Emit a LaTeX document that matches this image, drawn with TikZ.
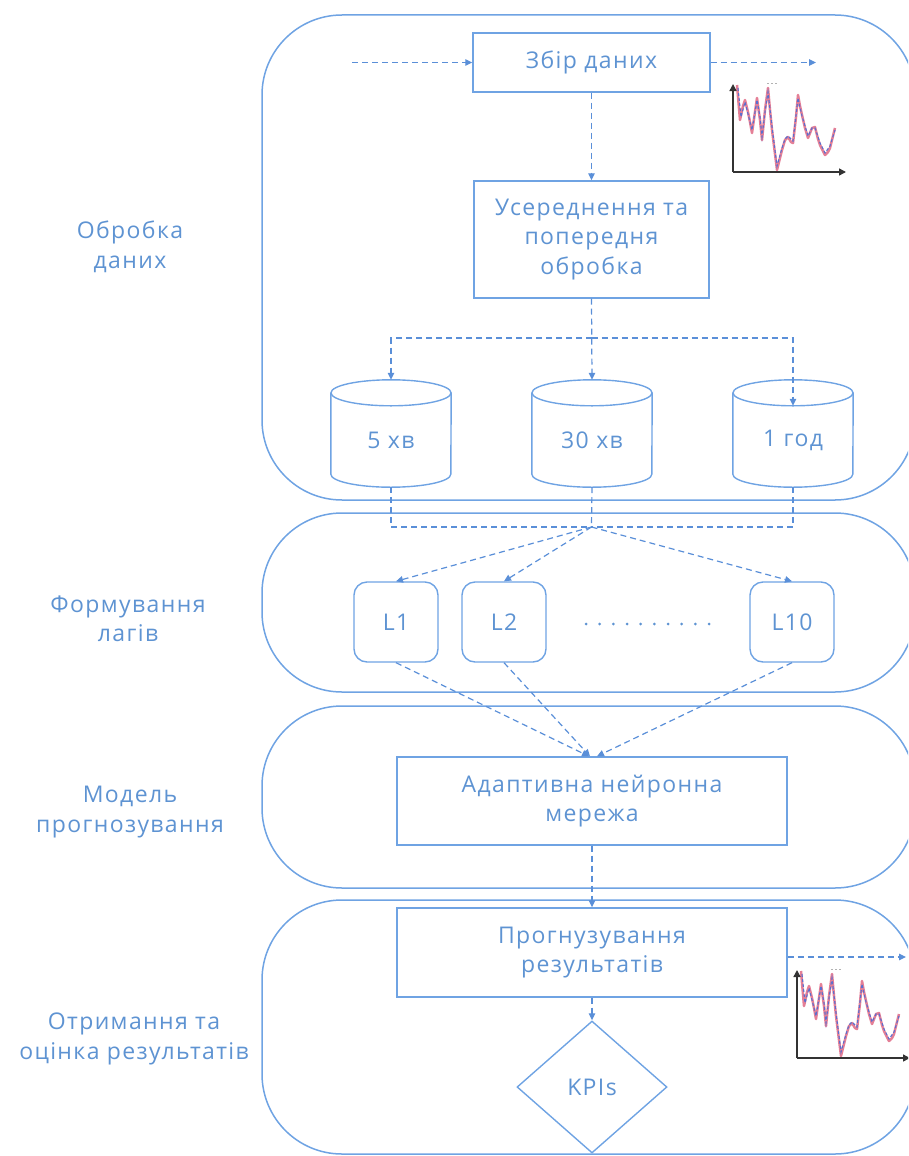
\documentclass[tikz,border=0pt]{standalone}
\usepackage{fontspec}
\setmainfont[LetterSpace=6]{Open Sans}
\usetikzlibrary{arrows.meta,shapes.geometric}
\definecolor{edge}{HTML}{6FA3E3}
\definecolor{ink}{HTML}{5E93D2}
\definecolor{flow}{HTML}{5A8FD8}
\definecolor{series}{HTML}{D9486A}
\definecolor{trend}{HTML}{5A6FD0}
\definecolor{axisc}{HTML}{333333}

% small time-series sketch: axes plus measured (red) and fitted (blue dashed) curves
\newcommand{\drawtrace}[1]{%
  \begin{scope}[shift={#1}]
    \draw[series, opacity=0.7, line width=2.5pt, line join=round]
      plot coordinates {(4,-87) (7,-52) (10,-66) (12,-72) (15,-60) (17,-50) (19,-39) (22,-60) (24,-74) (27,-52) (29,-32) (32,-62) (35,-84) (37,-62) (39,-42) (44,-2) (47,-14) (49,-22) (52,-32) (55,-35) (58,-30) (60,-29) (63,-55) (65,-77) (67,-66) (69,-57) (72,-44) (75,-34) (79,-44) (82,-45) (85,-33) (87,-27) (92,-17) (95,-20) (97,-24) (100,-36) (102,-44)};
    \draw[trend, line width=1.1pt, dash pattern=on 3pt off 2pt]
      plot coordinates {(5,-84) (8,-55) (12,-70) (15,-58) (19,-42) (24,-72) (27,-55) (29,-35) (32,-60) (35,-80) (39,-45) (44,-6) (49,-24) (52,-33) (55,-36) (60,-31) (65,-74) (69,-56) (75,-36) (79,-44) (82,-44) (87,-29) (92,-19) (97,-26) (102,-42)};
    \draw[gray!60, line width=0.8pt, dash pattern=on 2pt off 2pt] (34,-89) -- (45,-89);
    \draw[axisc, line width=1.4pt, -{Triangle[length=7pt,width=7pt]}] (0,0) -- (0,-88);
    \draw[axisc, line width=1.4pt, -{Triangle[length=7pt,width=7pt]}] (0,0) -- (113,0);
  \end{scope}}

\begin{document}
\begin{tikzpicture}[x=1pt, y=-1pt,
  font=\fontsize{23}{29.5}\selectfont, text=ink,
  panel/.style={draw=edge, line width=1.5pt, rounded corners=80pt},
  box/.style={draw=edge, line width=1.4pt, align=center, inner sep=0pt},
  lagbox/.style={draw=edge, line width=1.4pt, rounded corners=13pt,
    minimum width=84pt, minimum height=80pt, inner sep=0pt},
  cylbody/.style={minimum width=120pt, minimum height=107pt, inner sep=0pt},
  cylline/.style={draw=edge, line width=1.4pt},
  flowline/.style={draw=flow, line width=1.2pt, dash pattern=on 6pt off 4pt},
  tip/.style={-{Triangle[length=7pt,width=6.5pt]}},
  stage/.style={align=center, text=ink},
  kpibox/.style={diamond, draw=edge, line width=1.4pt, aspect=1.14,
    minimum width=150pt, minimum height=132pt, inner sep=0pt}
]
\useasboundingbox (0,0) rectangle (908,1156);
\clip (0,0) rectangle (908,1156);

% stage panels
\draw[panel] (262,15) rectangle (915,500);
\draw[panel] (262,513) rectangle (915,692);
\draw[panel] (262,706) rectangle (915,888);
\draw[panel] (262,900) rectangle (915,1154);

% stage captions
\node[stage] (s1) at (130,247) {Обробка\\даних};
\node[stage] (s2) at (128,619) {Формування\\лагів};
\node[stage] (s3) at (130,812) {Модель\\прогнозування};
\node[stage] (s4) at (134,1039) {Отримання та\\оцінка результатів};

% data processing
\node[box, minimum width=237pt, minimum height=59pt] (collect) at (591.5,62.5) {Збір даних};
\node[box, minimum width=235pt, minimum height=117pt] (prep) at (591.5,239.5) {Усереднення та\\попередня\\обробка};

\coordinate (src) at (352,62.5);
\coordinate (dst) at (816,62.5);
\draw[flowline, tip] (src) -- (collect.west);
\draw[flowline, tip] (collect.east) -- (dst);
\draw[flowline, tip] (collect.south) -- (prep.north);

% aggregated storages
\node[cylbody] (c5) at (391,433.5) {};
\node[cylbody] (c30) at (592,433.5) {};
\node[cylbody] (c1) at (793,433.5) {};
\foreach \n in {c5,c30,c1}{
  \draw[cylline] ([yshift=-13pt]\n.north west) -- ([yshift=13pt]\n.south west)
    arc[start angle=180, end angle=360, x radius=60pt, y radius=13pt]
    -- ([yshift=-13pt]\n.north east);
  \draw[cylline] ([yshift=-13pt]\n.north) ellipse[x radius=60pt, y radius=13pt];
}
\node[yshift=-7pt] (c5t) at (c5) {5 хв};
\node[yshift=-7pt] (c30t) at (c30) {30 хв};
\node[yshift=-7pt] (c1t) at (c1) {1 год};

\coordinate (split) at (591.5,338);
\draw[flowline, tip] (prep.south) -- (c30.north);
\draw[flowline, tip] (split) -| (c5.north);
\draw[flowline, tip] (split) -| ([yshift=-26pt]c1.north);

% lag formation
\coordinate (merge) at (591.5,527);
\draw[flowline] (c5.south) |- (merge);
\draw[flowline] (c1.south) |- (merge);
\draw[flowline] (c30.south) -- (merge);

\node[lagbox] (L1) at (396,622) {L1};
\node[lagbox] (L2) at (504,622) {L2};
\node[lagbox] (L10) at (792,622) {L10};
\coordinate (dotsA) at (586,624);
\coordinate (dotsB) at (712,624);
\draw[ink, line width=3pt, line cap=round, dash pattern=on 0pt off 13.67pt] (dotsA) -- (dotsB);

\draw[flowline, tip] (merge) -- (L1.north);
\draw[flowline, tip] (merge) -- (L2.north);
\draw[flowline, tip] (merge) -- (L10.north);

% forecasting model
\node[box, minimum width=390pt, minimum height=88pt] (nn) at (592,801) {Адаптивна нейронна\\мережа};
\draw[flowline, tip] (L1.south) -- ([xshift=-3pt]nn.north);
\draw[flowline, tip] (L2.south) -- ([xshift=-2pt]nn.north);
\draw[flowline, tip] (L10.south) -- ([xshift=5pt]nn.north);

% results
\node[box, minimum width=390pt, minimum height=89pt] (fc) at (592,952.5) {Прогнузування\\результатів};
\draw[flowline, tip] (nn.south) -- (fc.north);
\coordinate (out2) at (906,957);
\draw[flowline, tip] ([yshift=-4.5pt]fc.east) -- (out2);

\node[kpibox] (kpi) at (592,1087) {KPIs};
\draw[flowline, tip] (fc.south) -- (kpi.north);

% charts
\drawtrace{(733,172)}
\drawtrace{(797,1058)}
\end{tikzpicture}
\end{document}
